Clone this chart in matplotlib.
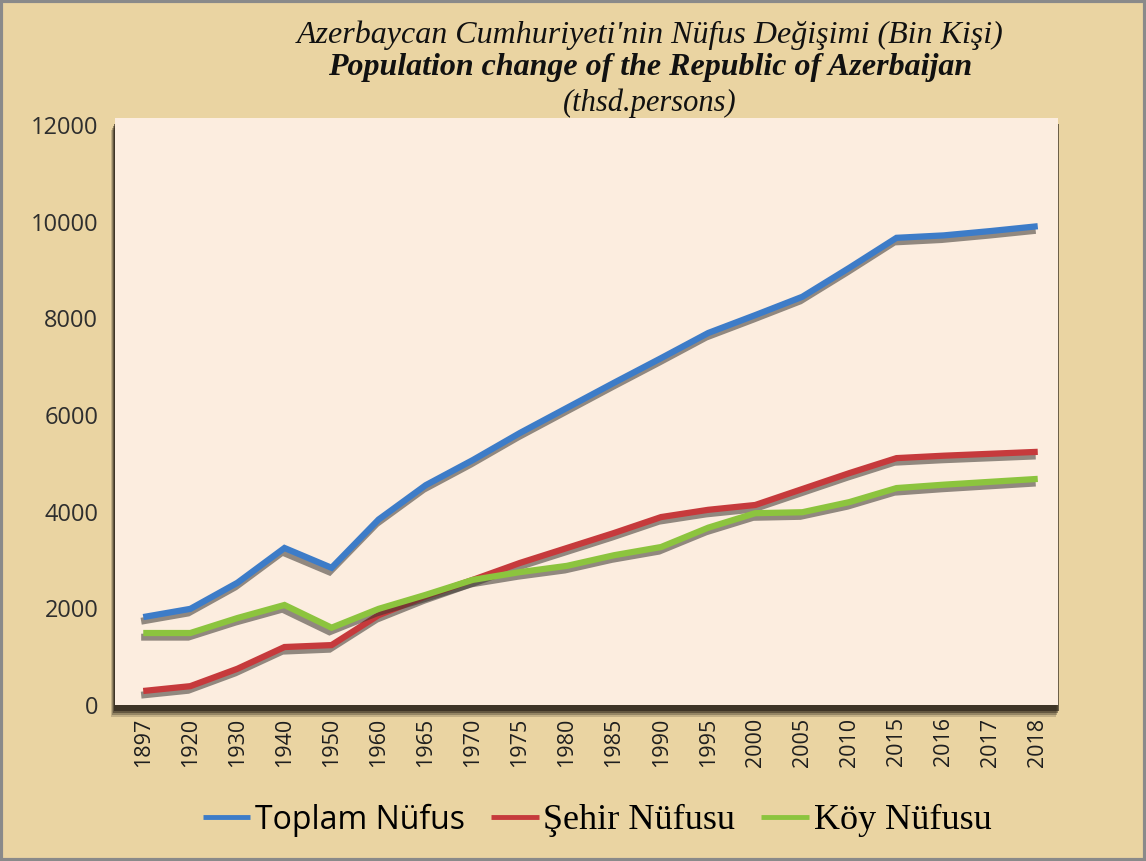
import numpy as np
import matplotlib
matplotlib.use("Agg")
import matplotlib.pyplot as plt
import matplotlib.patheffects as pe
from matplotlib.patches import Rectangle

# Veriler (bin kişi)
years = ["1897", "1920", "1930", "1940", "1950", "1960", "1965", "1970", "1975",
         "1980", "1985", "1990", "1995", "2000", "2005", "2010", "2015", "2016",
         "2017", "2018"]
toplam = [1820, 1990, 2530, 3250, 2840, 3840, 4550, 5070, 5630, 6150, 6670,
          7180, 7700, 8070, 8450, 9050, 9670, 9720, 9810, 9910]
sehir = [290, 390, 750, 1200, 1240, 1860, 2250, 2590, 2940, 3250, 3560, 3890,
         4040, 4140, 4470, 4800, 5110, 5160, 5200, 5240]
koy = [1490, 1490, 1800, 2070, 1600, 1990, 2280, 2590, 2750, 2880, 3100, 3270,
       3670, 3970, 3990, 4200, 4490, 4560, 4620, 4680]
y_ticks = [0, 2000, 4000, 6000, 8000, 10000, 12000]

series = [
    ("Toplam Nüfus", toplam, "#3D7CC8"),
    ("Şehir Nüfusu", sehir, "#C63A3C"),
    ("Köy Nüfusu", koy, "#8CC43E"),
]

W, H = 1146, 861
fig = plt.figure(figsize=(W / 100, H / 100), dpi=100)
fig.patch.set_facecolor("#EAD4A2")

# eksen alanı (piksel -> figür koordinatı)
ax_l, ax_r, ax_t, ax_b = 115, 1058, 118, 705
ax = fig.add_axes([ax_l / W, 1 - ax_b / H, (ax_r - ax_l) / W, (ax_b - ax_t) / H])
ax.set_facecolor("#FCEDDF")
ax.set_zorder(2)

# çizim alanının gölgesi
for i, a in enumerate([0.2, 0.3, 0.45, 0.65]):
    d = 4 - i
    fig.patches.append(Rectangle(((ax_l - 4 + i) / W, 1 - (ax_b + 4 + d * 2) / H),
                                 (ax_r - ax_l + 2) / W, (ax_b - ax_t) / H,
                                 transform=fig.transFigure, facecolor="#2a2218",
                                 edgecolor="none", alpha=a, zorder=0.5))

x = np.arange(len(years))
for name, vals, color in series:
    ax.plot(x, vals, color=color, lw=4.5, label=name, solid_capstyle="butt",
            solid_joinstyle="miter",
            path_effects=[pe.SimpleLineShadow(offset=(-1.5, -3), shadow_color="#3a3530",
                                              alpha=0.55, linewidth=5),
                          pe.Normal()])

ax.set_xlim(-0.6, len(years) - 1 + 0.43)
ax.set_ylim(0, 12150)
ax.set_yticks(y_ticks)
ax.set_yticklabels([str(v) for v in y_ticks], fontsize=17, color="#2e2e2e",
                   fontfamily="Open Sans")
ax.set_xticks(x)
ax.set_xticklabels(years, rotation=90, fontsize=15.5, color="#1e1e1e",
                   fontfamily="Open Sans", fontweight="medium")
ax.tick_params(length=0)
ax.tick_params(axis="y", pad=12)
ax.tick_params(axis="x", pad=9)
for s in ax.spines.values():
    s.set_visible(False)

# başlıklar
fig.text(0.567, 1 - 35 / H, "Azerbaycan Cumhuriyeti'nin Nüfus Değişimi (Bin Kişi)",
         ha="center", va="center", fontsize=23, style="italic",
         fontfamily="Liberation Serif", color="#111111")
fig.text(0.567, 1 - 68 / H, "Population change of the Republic of Azerbaijan",
         ha="center", va="center", fontsize=23, style="italic", fontweight="bold",
         fontfamily="Liberation Serif", color="#111111")
fig.text(0.567, 1 - 103 / H, "(thsd.persons)",
         ha="center", va="center", fontsize=22, style="italic",
         fontfamily="Liberation Serif", color="#111111")

leg = fig.legend(loc="center", bbox_to_anchor=(597 / W, 1 - 820 / H), ncol=3,
                 frameon=False, fontsize=23, handlelength=1.5, handletextpad=0.15,
                 columnspacing=0.8)
for line in leg.get_lines():
    line.set_linewidth(3.5)
    line.set_path_effects([])
txts = leg.get_texts()
txts[0].set_fontfamily("Open Sans")
for t in txts[1:]:
    t.set_fontfamily("Liberation Serif")
    t.set_fontsize(26)

# çerçeve
fig.patches.append(Rectangle((0.001, 0.001), 0.998, 0.998, transform=fig.transFigure,
                             facecolor="none", edgecolor="#8a8a8a", lw=3, zorder=5))

fig.savefig("out.png", dpi=100, facecolor=fig.get_facecolor())
